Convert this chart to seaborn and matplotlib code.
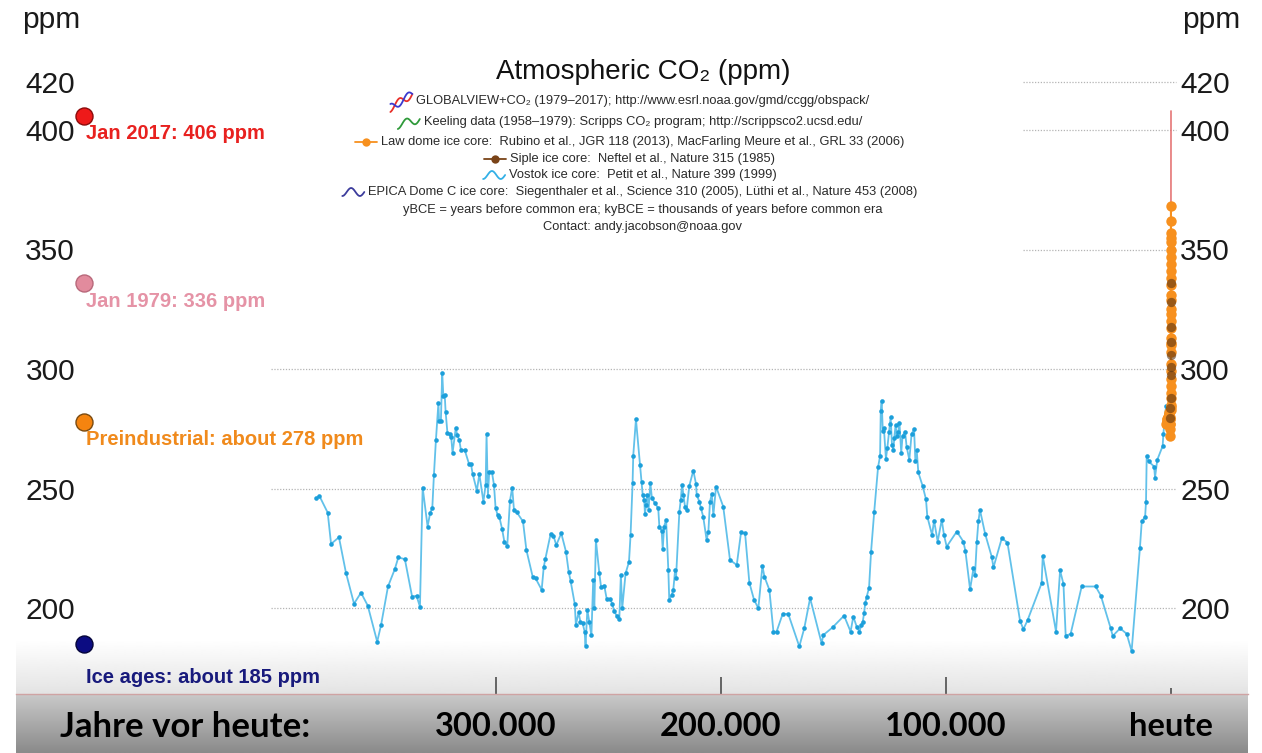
import numpy as np
import matplotlib
matplotlib.use("Agg")
import matplotlib.pyplot as plt
import seaborn as sns
from matplotlib.lines import Line2D
from matplotlib.transforms import IdentityTransform

# ---------------- data ----------------
# Vostok ice core: thousands of years relative to today (negative = past), ppm
vostok_kyr = [
    -380.0, -378.5, -374.8, -373.3, -369.8, -366.7, -363.1, -360.0, -357.0, -352.8,
    -351.1, -348.0, -345.0, -343.4, -340.5, -337.3, -335.3, -333.8, -332.6, -330.4,
    -329.3, -328.3, -327.6, -326.7, -325.6, -325.3, -324.5, -323.9, -323.4, -322.8,
    -322.4, -321.6, -320.5, -319.9, -319.3, -317.9, -317.2, -316.3, -315.6, -313.9,
    -312.0, -311.1, -310.4, -308.5, -307.4, -305.6, -304.6, -304.2, -303.6, -303.0,
    -301.8, -300.9, -300.2, -299.3, -298.5, -297.3, -296.3, -295.0, -293.8, -292.8,
    -292.0, -290.8, -288.0, -286.5, -283.7, -282.4, -279.7, -278.8, -278.1, -275.7,
    -274.5, -273.2, -271.0, -268.9, -267.7, -266.8, -265.0, -264.5, -263.3, -262.5,
    -261.5, -260.6, -260.2, -259.4, -258.5, -257.6, -256.8, -256.3, -255.6, -254.1,
    -253.3, -251.9, -250.8, -249.3, -248.3, -247.6, -246.4, -245.2, -244.5, -243.9,
    -242.4, -240.9, -240.2, -239.3, -239.0, -237.8, -236.0, -235.3, -234.8, -234.1,
    -233.8, -233.3, -232.8, -232.2, -231.4, -230.7, -229.3, -227.9, -227.4, -226.4,
    -225.9, -225.3, -224.4, -223.4, -223.0, -221.9, -221.2, -220.4, -220.0, -218.5,
    -217.9, -217.3, -216.7, -216.0, -215.3, -214.1, -212.3, -211.1, -210.8, -209.6,
    -208.9, -207.9, -206.4, -205.6, -204.9, -204.1, -203.4, -202.2, -199.0, -196.0,
    -193.0, -191.1, -189.3, -187.4, -185.3, -183.4, -181.6, -180.7, -178.5, -176.7,
    -175.3, -172.6, -170.1, -165.2, -163.0, -160.4, -155.3, -154.5, -150.4, -145.3,
    -142.4, -141.2, -139.7, -138.5, -137.6, -137.0, -136.4, -135.9, -135.3, -134.2,
    -133.3, -131.9, -130.2, -129.3, -129.0, -128.6, -128.1, -127.6, -126.7, -126.1,
    -125.3, -124.9, -124.6, -124.0, -123.4, -123.0, -122.4, -121.9, -121.2, -120.7,
    -119.9, -119.3, -118.2, -117.5, -116.3, -115.3, -114.2, -113.6, -113.0, -112.3,
    -110.4, -108.9, -108.3, -106.2, -105.3, -103.7, -101.9, -100.9, -99.7, -95.2,
    -92.3, -91.4, -89.3, -87.8, -87.1, -86.3, -85.6, -84.9, -82.6, -79.7,
    -78.9, -75.2, -72.7, -67.1, -65.6, -63.7, -57.5, -57.0, -51.1, -49.3,
    -47.8, -46.8, -44.6, -39.7, -33.5, -31.2, -26.8, -25.9, -22.6, -19.7,
    -17.5, -13.8, -13.0, -11.5, -11.1, -10.8, -9.9, -7.5, -7.1, -6.1,
    -3.7, -3.4, -2.2,
]
vostok_ppm = [
    245.9, 246.9, 239.9, 226.8, 229.6, 214.8, 201.8, 206.4, 201.0, 185.9,
    192.8, 209.0, 216.2, 221.2, 220.4, 204.8, 205.1, 200.5, 250.4, 234.1,
    239.6, 242.0, 255.5, 270.3, 285.7, 278.4, 278.1, 298.5, 288.5, 289.3,
    282.2, 273.4, 272.8, 271.4, 264.9, 275.2, 272.4, 270.2, 266.1, 266.1,
    260.3, 260.1, 256.2, 249.1, 256.0, 244.5, 251.5, 272.6, 246.9, 257.1,
    256.8, 251.5, 242.0, 238.9, 238.0, 233.1, 227.8, 226.0, 244.8, 250.4,
    240.8, 240.1, 236.2, 224.3, 213.1, 212.4, 207.6, 217.0, 220.4, 231.1,
    230.3, 226.3, 231.3, 223.6, 215.2, 211.1, 201.7, 192.9, 198.2, 194.3,
    193.6, 190.1, 184.3, 199.2, 194.0, 188.5, 211.7, 199.8, 228.3, 214.8,
    208.7, 209.4, 203.8, 203.8, 201.7, 198.9, 196.8, 195.3, 213.8, 199.9,
    214.5, 219.3, 230.4, 252.2, 263.8, 279.0, 259.9, 252.6, 247.3, 245.2,
    239.2, 243.1, 247.3, 241.0, 252.2, 245.9, 243.8, 241.7, 234.1, 232.4,
    224.6, 234.1, 236.9, 215.7, 203.4, 205.5, 207.6, 215.9, 212.4, 240.3,
    245.2, 251.5, 247.3, 242.4, 240.8, 251.1, 257.5, 251.9, 247.3, 244.5,
    241.7, 238.2, 228.5, 232.0, 244.5, 247.7, 238.9, 250.8, 242.4, 220.1,
    218.0, 231.6, 231.3, 210.6, 203.4, 199.9, 217.6, 213.1, 207.6, 190.1,
    190.1, 197.5, 197.5, 183.9, 191.5, 204.1, 185.3, 188.7, 191.9, 196.8,
    190.1, 196.4, 192.2, 190.1, 192.9, 194.3, 197.8, 202.0, 204.5, 208.5,
    223.6, 240.3, 258.9, 263.6, 282.6, 286.8, 274.2, 275.2, 262.5, 266.8,
    273.8, 277.0, 279.8, 268.2, 266.1, 271.0, 276.6, 272.1, 273.8, 277.6,
    265.0, 272.0, 273.8, 267.5, 262.0, 272.8, 274.8, 261.3, 265.9, 256.7,
    251.1, 245.5, 238.2, 230.6, 236.6, 227.8, 236.9, 230.6, 225.7, 232.0,
    227.8, 224.0, 207.8, 216.6, 213.8, 227.8, 236.2, 241.0, 231.0, 221.5,
    217.0, 229.2, 227.4, 194.7, 191.1, 195.0, 210.4, 221.8, 190.1, 215.7,
    210.1, 188.3, 189.2, 209.0, 209.0, 205.2, 191.5, 188.3, 191.5, 189.2,
    182.0, 225.3, 236.2, 238.2, 244.5, 263.6, 261.3, 259.2, 254.6, 262.0,
    267.8, 272.8, 284.6,
]

present_year = 2017

# Law Dome ice core (year AD, ppm)
law_year = [0, 100, 200, 300, 400, 500, 600, 700, 800, 900, 1000, 1100, 1200, 1300,
            1400, 1500, 1550, 1600, 1650, 1700, 1750, 1800, 1830, 1850, 1870, 1880,
            1890, 1900, 1910, 1920, 1930, 1940, 1950, 1955, 1960, 1965, 1968, 1970,
            1973, 1975, 1978, 1980, 1982, 1984, 1986, 1988, 1990, 1992, 1994, 1996, 2004]
law_ppm = [277, 278, 278, 279, 279, 278, 277, 279, 280, 280, 280, 281, 282, 281,
           279, 280, 279, 272, 275, 277, 277, 283, 284, 285, 288, 290,
           293, 296, 299, 302, 307, 310, 311, 313, 317, 320, 323, 325,
           329, 331, 335, 338, 341, 344, 347, 350, 353, 355, 357, 362, 368]

# Siple ice core (year AD, ppm)
siple_year = [1744, 1791, 1816, 1869, 1899, 1915, 1935, 1947, 1960, 1975]
siple_ppm = [279.4, 283.5, 287.7, 297.5, 301.0, 305.9, 311.4, 317.7, 328.2, 335.9]

# Keeling (Mauna Loa) annual means, 1958-1979
keeling_year = list(range(1958, 1980))
keeling_ppm = [315.3, 316.0, 316.9, 317.6, 318.5, 319.0, 319.6, 320.0, 321.4, 322.2, 323.0,
               324.6, 325.7, 326.3, 327.5, 329.7, 330.2, 331.1, 332.0, 333.8, 335.4, 336.8]

# GLOBALVIEW+ annual values, 1979-2017
gv_year = list(range(1979, 2018))
gv_ppm = [336.8, 338.7, 340.1, 341.4, 343.0, 344.6, 346.0, 347.4, 349.2, 351.6, 353.1,
          354.4, 355.6, 356.4, 357.1, 358.8, 360.8, 362.6, 363.7, 366.7, 368.4, 369.6,
          371.1, 373.2, 375.8, 377.5, 379.8, 381.9, 383.8, 385.6, 387.4, 389.9, 391.7,
          393.9, 396.5, 398.6, 400.8, 404.2, 408.0]

# reference levels on the left
annot_ppm = [406, 336, 278, 185]
annot_labels = ["Jan 2017: 406 ppm", "Jan 1979: 336 ppm",
                "Preindustrial: about 278 ppm", "Ice ages: about 185 ppm"]
annot_face = ["#ee1a1a", "#e28b9d", "#f5840f", "#0c0c82"]
annot_edge = ["#8c0a0a", "#b8687a", "#7a4a10", "#05053a"]
annot_text = ["#e8211f", "#e593a6", "#f08a1c", "#181a7c"]

yticks = [200, 250, 300, 350, 400, 420]
xticks_kyr = [-300, -200, -100, 0]
xtick_labels = ["300.000", "200.000", "100.000", "heute"]

legend_texts = [
    "GLOBALVIEW+CO\u2082 (1979\u20132017); http://www.esrl.noaa.gov/gmd/ccgg/obspack/",
    "Keeling data (1958\u20131979): Scripps CO\u2082 program; http://scrippsco2.ucsd.edu/",
    "Law dome ice core:  Rubino et al., JGR 118 (2013), MacFarling Meure et al., GRL 33 (2006)",
    "Siple ice core:  Neftel et al., Nature 315 (1985)",
    "Vostok ice core:  Petit et al., Nature 399 (1999)",
    "EPICA Dome C ice core:  Siegenthaler et al., Science 310 (2005), L\u00fcthi et al., Nature 453 (2008)",
    "yBCE = years before common era; kyBCE = thousands of years before common era",
    "Contact: andy.jacobson@noaa.gov",
]
legend_icons = ["gv", "keeling", "law", "siple", "vostok", "epica", None, None]

# ---------------- layout ----------------
W, H = 1262, 753
PX_PER_KYR = 2.25
PX_PER_PPM = 2.39
X0_PX = 1171      # pixel column of "heute"
Y300_PX = 369     # pixel row of 300 ppm

VOSTOK_LINE = "#62c1ea"
VOSTOK_DOT = "#1c9fda"
ORANGE = "#f7901e"
BAND_FONT = ["Liberation Sans Narrow", "Lato", "DejaVu Sans"]

sns.set_theme(style="white")
plt.rcParams["font.family"] = ["Liberation Sans", "DejaVu Sans"]

fig = plt.figure(figsize=(W / 100, H / 100), dpi=100)
fig.patch.set_facecolor("white")

# bottom band with the time axis
bax = fig.add_axes([16 / W, 0, (1248 - 16) / W, 113 / H], zorder=1)
bx0, bx1 = (16 - X0_PX) / PX_PER_KYR, (1248 - X0_PX) / PX_PER_KYR
bax.set_xlim(bx0, bx1)
bax.set_ylim(0, 113)
rows = np.arange(113) + 640
shade = np.where(rows < 694, 1.0 - 0.11 * (rows - 640) / 54.0, 0.79 - 0.25 * (rows - 694) / 59.0)
bax.imshow(np.tile(shade[:, None], (1, 2)), cmap="gray", vmin=0, vmax=1,
           extent=[bx0, bx1, 0, 113], aspect="auto", interpolation="bilinear")
for s in ["top", "left", "right"]:
    bax.spines[s].set_visible(False)
bax.spines["bottom"].set_position(("data", 59))
bax.spines["bottom"].set_color("#cfa3a3")
bax.spines["bottom"].set_linewidth(1.0)
bax.set_yticks([])
bax.set_xticks(xticks_kyr, xtick_labels)
bax.tick_params(axis="x", bottom=True, direction="in", length=12.5, width=1.3,
                color="#5a5a5a", pad=13, labelsize=23.5, labelcolor="black")
for lbl in bax.get_xticklabels():
    lbl.set_fontweight("bold")
    lbl.set_family(BAND_FONT)
bax.xaxis.get_major_ticks()[-1].tick1line.set_markersize(4)
bax.text((185 - X0_PX) / PX_PER_KYR, 26, "Jahre vor heute:", ha="center", va="center",
         fontsize=25, fontweight="bold", color="black", family=BAND_FONT)

# main data axes covering the whole figure
ax = fig.add_axes([0, 0, 1, 1], zorder=2)
ax.patch.set_visible(False)
ax.set_xlim(-X0_PX / PX_PER_KYR, (W - X0_PX) / PX_PER_KYR)
ax.set_ylim(300 - (H - Y300_PX) / PX_PER_PPM, 300 + Y300_PX / PX_PER_PPM)
for s in ax.spines.values():
    s.set_visible(False)

# dotted gridlines
ax.hlines([200, 250, 300], -400, 2, colors="#b4b4b4", linestyles=(0, (1, 1.3)), lw=0.9, zorder=1)
ax.hlines([350, 400, 420], -66, 2, colors="#b4b4b4", linestyles=(0, (1, 1.3)), lw=0.9, zorder=1)

# y tick labels on both sides, drawn inside the figure
ax.set_xticks([])
ax.set_yticks(yticks)
ax.tick_params(axis="y", length=0, pad=-54, labelsize=21.5, labelcolor="#1a1a1a")
ax2 = ax.twinx()
ax2.set_ylim(ax.get_ylim())
ax2.set_yticks(yticks)
ax2.tick_params(axis="y", length=0, pad=-59, labelsize=21.5, labelcolor="#1a1a1a")
for s in ax2.spines.values():
    s.set_visible(False)
ax2.grid(False)

# series
sns.lineplot(x=vostok_kyr, y=vostok_ppm, ax=ax, color=VOSTOK_LINE, linewidth=1.3,
             marker="o", markersize=3.3, markerfacecolor=VOSTOK_DOT, markeredgewidth=0,
             sort=False, estimator=None, zorder=3)

keeling_kyr = (np.array(keeling_year) - present_year) / 1000.0
gv_kyr = (np.array(gv_year) - present_year) / 1000.0
law_kyr = (np.array(law_year) - present_year) / 1000.0
siple_kyr = (np.array(siple_year) - present_year) / 1000.0

sns.lineplot(x=keeling_kyr, y=keeling_ppm, ax=ax, color="#3a9f3a", linewidth=1.1,
             sort=False, estimator=None, zorder=3)
sns.lineplot(x=gv_kyr, y=gv_ppm, ax=ax, color="#e36a6a", linewidth=1.1,
             sort=False, estimator=None, zorder=3)
sns.lineplot(x=law_kyr, y=law_ppm, ax=ax, color=ORANGE, linewidth=1.5,
             marker="o", markersize=7.5, markeredgewidth=0,
             sort=False, estimator=None, zorder=4)
sns.scatterplot(x=siple_kyr, y=siple_ppm, ax=ax, color="#5b3412", alpha=0.6,
                s=45, linewidth=0, zorder=5)

# reference levels with labels
annot_x = (84 - X0_PX) / PX_PER_KYR
for i, (ppm, lab) in enumerate(zip(annot_ppm, annot_labels)):
    sns.scatterplot(x=[annot_x], y=[ppm], ax=ax, s=150, color=annot_face[i],
                    edgecolor=annot_edge[i], linewidth=1.0, zorder=6)
    dy = -24 if i == 3 else -13
    ax.annotate(lab, xy=(annot_x, ppm), xytext=(1.4, dy), textcoords="offset points",
                ha="left", va="center", fontsize=14.5, fontweight="bold",
                color=annot_text[i], zorder=6)

# axis units
fig.text(22 / W, 1 - 20 / H, "ppm", fontsize=21.5, ha="left", va="center", color="#1a1a1a")
fig.text(1240 / W, 1 - 20 / H, "ppm", fontsize=21.5, ha="right", va="center", color="#1a1a1a")

# title and source block
fig.text(643 / W, 1 - 72 / H, "Atmospheric CO\u2082 (ppm)", fontsize=20, ha="center",
         va="center", color="#111111")
legend_y_px = [101, 122, 142, 159, 175, 192, 210, 227]
legend_artists = []
for txt, ypx in zip(legend_texts, legend_y_px):
    legend_artists.append(fig.text(643 / W, 1 - ypx / H, txt, fontsize=9.3, ha="center",
                                   va="center", color="#2a2a2a"))

fig.canvas.draw()
renderer = fig.canvas.get_renderer()


def add_icon(kind, xr, yc):
    t = np.linspace(0, 1, 30)
    xs = xr - 22 + 22 * t
    wave = -np.cos(2 * np.pi * 1.25 * t)

    def put(x, y, color, lw=1.3, **kw):
        fig.add_artist(Line2D(x, y, color=color, lw=lw, transform=IdentityTransform(), **kw))

    if kind == "gv":
        put(xs, yc - 7 + 14 * t + 4 * wave, "#e8302a")
        put(xs, yc - 7 + 14 * t - 4 * wave, "#3a3ad0")
    elif kind == "keeling":
        put(xs, yc - 3 + 6 * t + 4 * wave, "#2f9a3a")
    elif kind == "law":
        put([xr - 22, xr], [yc, yc], ORANGE, lw=1.3)
        put([xr - 11], [yc], ORANGE, marker="o", markersize=6, markeredgewidth=0)
    elif kind == "siple":
        put([xr - 22, xr], [yc, yc], "#7a4418", lw=1.3)
        put([xr - 11], [yc], "#7a4418", marker="o", markersize=6, markeredgewidth=0)
    elif kind == "vostok":
        put(xs, yc + 4 * wave, "#33b0e6")
    elif kind == "epica":
        put(xs, yc + 4 * wave, "#3c3c9c")


for art, kind in zip(legend_artists, legend_icons):
    if kind is None:
        continue
    bb = art.get_window_extent(renderer)
    add_icon(kind, bb.x0 - 4, (bb.y0 + bb.y1) / 2)

fig.savefig("out.png", dpi=100, facecolor="white")
